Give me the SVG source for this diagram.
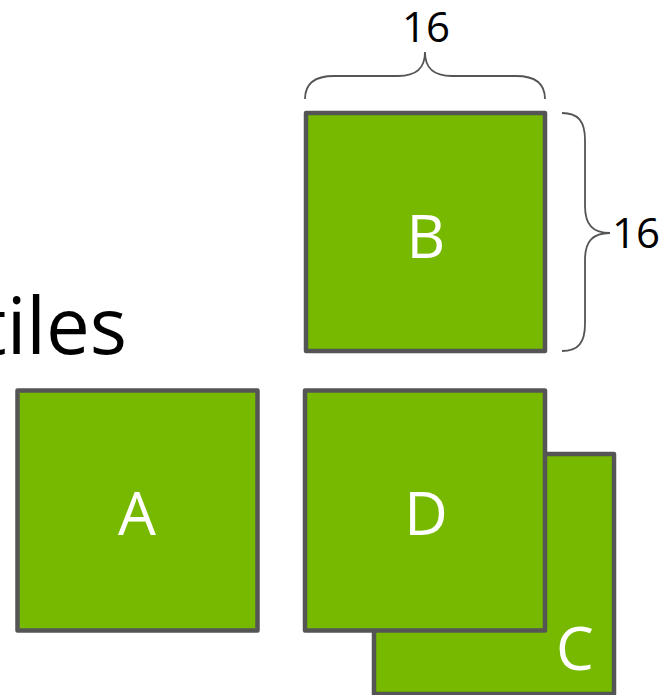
<svg xmlns="http://www.w3.org/2000/svg" width="662" height="695" viewBox="0 0 662 695">
  <style>
    .tile { fill: #76b900; stroke: #555555; stroke-width: 4.5; stroke-linejoin: round; }
    .tile-label { fill: #ffffff; font-family: "Open Sans", "Noto Sans", sans-serif; font-size: 60px; text-anchor: middle; }
    .dim { fill: #000000; font-family: "Open Sans", "Noto Sans", sans-serif; font-size: 42px; }
    .brace { fill: none; stroke: #555555; stroke-width: 1.8; }
    .title { fill: #000000; font-family: "Open Sans", "Noto Sans", sans-serif; font-size: 78px; text-anchor: end; }
  </style>
  <rect width="662" height="695" fill="#ffffff"/>

  <text class="title" x="127" y="354">tiles</text>

  <g id="tile-c">
    <rect class="tile" x="374" y="454" width="240" height="240"/>
    <text class="tile-label" x="575" y="670">C</text>
  </g>
  <g id="tile-d">
    <rect class="tile" x="305" y="390.5" width="240" height="240"/>
    <text class="tile-label" x="426" y="535">D</text>
  </g>
  <g id="tile-a">
    <rect class="tile" x="17.5" y="390.5" width="240" height="240"/>
    <text class="tile-label" x="137" y="535">A</text>
  </g>
  <g id="tile-b">
    <rect class="tile" x="306" y="113" width="239" height="238"/>
    <text class="tile-label" x="426" y="258">B</text>
  </g>

  <g id="dimensions">
    <path class="brace" d="M305,99 C305,84 314,76 334,76 L398,76 C417,76 425,68 425,52 C425,68 433,76 452,76 L516,76 C536,76 545,84 545,99"/>
    <text class="dim" x="426" y="42" text-anchor="middle">16</text>
    <path class="brace" d="M562,113 C578,113 585,121 585,140 L585,206 C585,225 593,233 610,233 C593,233 585,241 585,260 L585,324 C585,343 578,351 562,351"/>
    <text class="dim" x="612" y="248">16</text>
  </g>
</svg>
